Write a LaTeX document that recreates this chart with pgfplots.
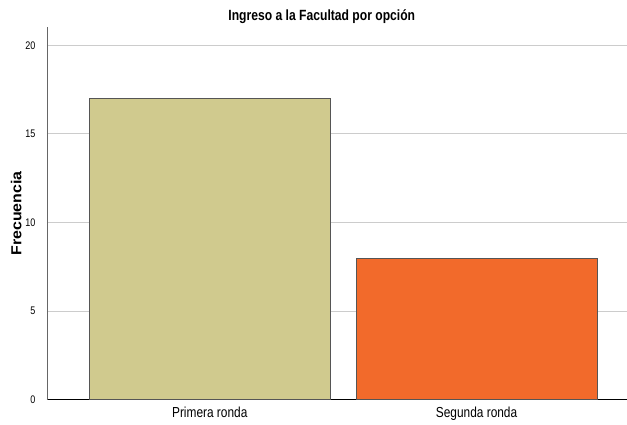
\documentclass[border=0pt]{standalone}
\usepackage{fontspec}
\setmainfont{Liberation Sans}
\newfontfamily\narrow[FakeStretch=0.82]{Liberation Sans}
\newfontfamily\wide[FakeStretch=1.1]{Liberation Sans}
\usepackage{pgfplots}
\pgfplotsset{compat=1.18}
\definecolor{beige}{HTML}{D0CA8E}
\definecolor{naranja}{HTML}{F26A2B}
\definecolor{borde}{HTML}{555555}

\begin{document}
\begin{tikzpicture}[x=1pt,y=1pt]
\path (0,0) rectangle (627,423);
\begin{axis}[
  at={(47pt,23pt)}, anchor=south west,
  scale only axis, width=580pt, height=373pt,
  xmin=-0.61, xmax=1.562, ymin=0, ymax=21.03,
  axis x line*=bottom, axis y line*=left,
  x axis line style={black, line width=0.8pt},
  y axis line style={gray!80!black, line width=0.8pt},
  xtick={0,1}, xticklabels={Primera ronda, Segunda ronda},
  ytick={0,5,10,15,20},
  major tick length=0pt,
  ymajorgrids, grid style={gray!40, line width=0.9pt},
  /pgf/number format/assume math mode=true,
  yticklabel style={font=\narrow\fontsize{11}{11}\selectfont, xshift=-8pt},
  xticklabel style={font=\narrow\fontsize{14.5}{14.5}\selectfont, yshift=-4pt},
  ylabel={Frecuencia},
  ylabel style={font=\wide\bfseries\fontsize{14.5}{14.5}\selectfont, at={(axis description cs:-0.053,0.5)}, anchor=center},
  ybar, bar width=241pt,
]
\addplot[bar shift=0pt, fill=beige, draw=borde, line width=0.8pt] coordinates {(0,17)};
\addplot[bar shift=0pt, fill=naranja, draw=borde, line width=0.8pt] coordinates {(1,8)};
\end{axis}
\node[anchor=base] at (322,402) {\narrow\bfseries\fontsize{14.8}{14.8}\selectfont Ingreso a la Facultad por opción};
\end{tikzpicture}
\end{document}
